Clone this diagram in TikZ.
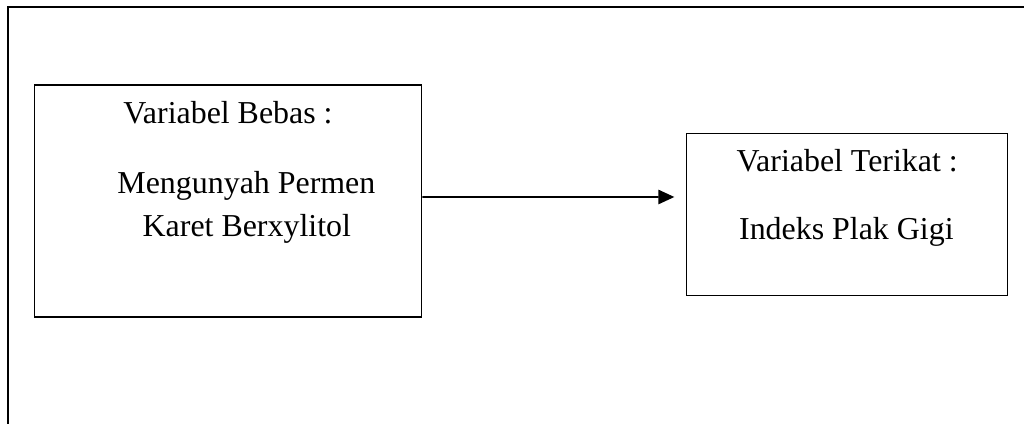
\documentclass[tikz,border=0pt]{standalone}
\usepackage{fontspec}
\setmainfont{Liberation Serif}
\usetikzlibrary{arrows.meta, positioning}

\tikzset{
  varbox/.style={draw, rectangle, line width=1.1pt, inner sep=0pt},
  vartext/.style={anchor=base, inner sep=0pt, font=\fontsize{22.7}{30}\selectfont},
  panah/.style={-{Triangle[length=4mm, width=3.6mm]}, line width=1.1pt}
}

\begin{document}
\begin{tikzpicture}
\useasboundingbox (0,0) rectangle (25.6,10.6);
% bingkai luar
\draw[line width=1.1pt] (0.2,0) -- (0.2,10.425) -- (25.6,10.425);
\node (bebas) at (5.7,5.575) [varbox, minimum width=9.685cm, minimum height=5.8cm] {};
\node (terikat) at (21.175,5.2425) [varbox, minimum width=8.015cm, minimum height=4.05cm] {};
\node (bebasjudul) at (5.7,7.5) [vartext] {Variabel Bebas :};
\node (bebasisi1) at (6.16,5.75) [vartext] {Mengunyah Permen};
\node (bebasisi2) at (6.17,4.675) [vartext] {Karet Berxylitol};
\node (terikatjudul) at (21.18,6.3) [vartext] {Variabel Terikat :};
\node (terikatisi) at (21.16,4.6) [vartext] {Indeks Plak Gigi};
\draw [panah] ([yshift=0.1cm]bebas.east) -- ([xshift=-0.29cm, yshift=0.4325cm]terikat.west);
\end{tikzpicture}
\end{document}
